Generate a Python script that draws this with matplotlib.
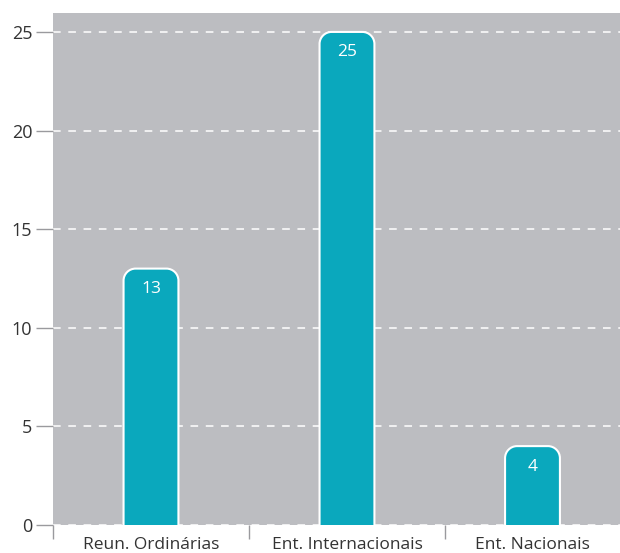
import numpy as np
import matplotlib
matplotlib.use("Agg")
import matplotlib.pyplot as plt
from matplotlib.path import Path
from matplotlib.patches import PathPatch

# ── data ──────────────────────────────────────────────────
categories = ["Reun. Ordinárias", "Ent. Internacionais", "Ent. Nacionais"]
values = [13, 25, 4]
y_ticks = [0, 5, 10, 15, 20, 25]

# ── colours ───────────────────────────────────────────────
C_BG = "#bcbdc1"
C_BAR = "#0aa8bd"
C_TICK = "#9a9a9e"
C_TEXT = "#333333"

X_LO, X_HI = -0.5, 2.393   # last band is clipped by the plot edge
Y_HI = 25.96

plt.rcParams["font.family"] = ["Open Sans", "DejaVu Sans"]


def rounded_top(ax, rect, r_px=12):
    # rounded top corners, circular in pixels
    x0, y0 = rect.get_x(), rect.get_y()
    w, h = rect.get_width(), rect.get_height()
    t = ax.transData
    p0 = t.transform((0, 0))
    p1 = t.transform((1, 1))
    rx = r_px / (p1[0] - p0[0])
    ry = r_px / (p1[1] - p0[1])
    k = 0.5523
    x1, y1 = x0 + w, y0 + h
    verts = [
        (x0, y0), (x0, y1 - ry),
        (x0, y1 - ry + k * ry), (x0 + rx - k * rx, y1), (x0 + rx, y1),
        (x1 - rx, y1),
        (x1 - rx + k * rx, y1), (x1, y1 - ry + k * ry), (x1, y1 - ry),
        (x1, y0),
    ]
    codes = [Path.MOVETO, Path.LINETO,
             Path.CURVE4, Path.CURVE4, Path.CURVE4,
             Path.LINETO,
             Path.CURVE4, Path.CURVE4, Path.CURVE4,
             Path.LINETO]
    return Path(verts, codes)


fig = plt.figure(figsize=(6.2, 5.53), dpi=100)
ax = fig.add_axes([53 / 620, 1 - 525 / 553, 567 / 620, 512 / 553])
ax.set_facecolor(C_BG)

# band edges, the last one cut at the axes edge
edges = np.arange(len(categories) + 1) - 0.5
bands = np.minimum(edges, X_HI)
x = (bands[:-1] + bands[1:]) / 2

ax.yaxis.grid(True, color="white", linestyle=(0, (5, 5)), linewidth=1.1)
ax.set_axisbelow(True)

for s in ax.spines.values():
    s.set_visible(False)

ax.set_yticks(y_ticks)
ax.set_yticklabels([str(t) for t in y_ticks])
ax.tick_params(axis="y", length=12, width=1, color=C_TICK, labelsize=13,
               labelcolor=C_TEXT, pad=3)

ax.set_xticks(x)
ax.set_xticklabels(categories)
ax.set_xticks(edges, minor=True)
ax.tick_params(axis="x", which="major", length=0, labelsize=12.5,
               labelcolor=C_TEXT, pad=8.5)
ax.tick_params(axis="x", which="minor", length=10, width=1, color=C_TICK)

bars = ax.bar(x, values, width=0.28, color=C_BAR)

# limits last (set_xticks would widen them)
ax.set_xlim(X_LO, X_HI)
ax.set_ylim(0, Y_HI)

for rect, v in zip(bars, values):
    rect.set_visible(False)
    path = rounded_top(ax, rect)
    ax.add_patch(PathPatch(path, facecolor=C_BAR, edgecolor="white",
                           linewidth=1.5, zorder=3))
    ax.annotate(str(v), (rect.get_x() + rect.get_width() / 2, v),
                xytext=(0, -9), textcoords="offset points",
                ha="center", va="top", color="white", fontsize=12.5, zorder=4)

fig.savefig("out.png", dpi=100)
